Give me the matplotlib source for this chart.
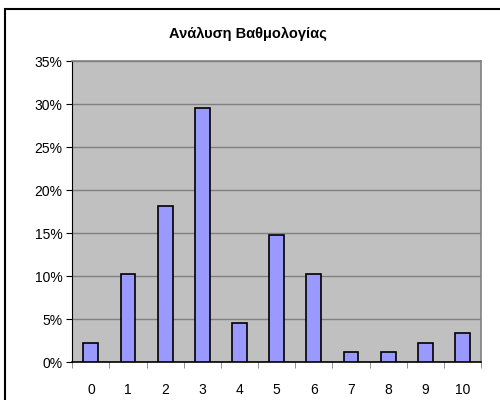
import matplotlib
matplotlib.use('Agg')
import matplotlib.pyplot as plt
from matplotlib.patches import Rectangle
from matplotlib.ticker import FuncFormatter, MultipleLocator

# Ποσοστά ανά βαθμό
grades = ['0', '1', '2', '3', '4', '5', '6', '7', '8', '9', '10']
percent = [2.27, 10.23, 18.18, 29.55, 4.55, 14.77, 10.23, 1.14, 1.14, 2.27, 3.41]

plt.rcParams['font.family'] = ['Liberation Sans', 'DejaVu Sans']

fig = plt.figure(figsize=(5, 4), dpi=100)
W, H = 500, 400
ax = fig.add_axes([72.3 / W, 1 - 362.3 / H, (481 - 72.3) / W, (362.3 - 61) / H])

# πλαίσιο γραφήματος
fig.patches.append(Rectangle((5 / W, -0.1), 1.2, 1 - 9 / H + 0.1, transform=fig.transFigure,
                             fill=False, edgecolor='black', linewidth=1.5))

ax.set_facecolor('#c0c0c0')
x = list(range(len(grades)))
ax.bar(x, percent, width=0.4, color='#9999ff', edgecolor='black', linewidth=1.2, zorder=3)

ax.set_xlim(-0.5, len(grades) - 0.5)
ax.set_ylim(0, 35)
ax.yaxis.set_major_locator(MultipleLocator(5))
ax.yaxis.set_major_formatter(FuncFormatter(lambda v, p: f'{int(v)}%'))
ax.grid(axis='y', color='#808080', linewidth=1, zorder=1)

ax.set_xticks(x)
ax.set_xticklabels(grades)
ax.set_xticks([i - 0.5 for i in range(len(grades) + 1)], minor=True)
ax.tick_params(axis='x', which='major', length=0, pad=15, labelsize=10)
ax.tick_params(axis='x', which='minor', length=4, direction='out', color='#808080')
ax.tick_params(axis='y', length=4, direction='out', labelsize=10, pad=3)

for s in ['top', 'right']:
    ax.spines[s].set_color('#808080')
    ax.spines[s].set_linewidth(1.2)
ax.spines['left'].set_color('black')
ax.spines['bottom'].set_color('black')
ax.spines['bottom'].set_linewidth(1.2)

fig.text(248 / W, 1 - 34 / H, 'Ανάλυση Βαθμολογίας', ha='center', va='center',
         fontsize=10.5, fontweight='bold')

fig.savefig('out.png', dpi=100)
